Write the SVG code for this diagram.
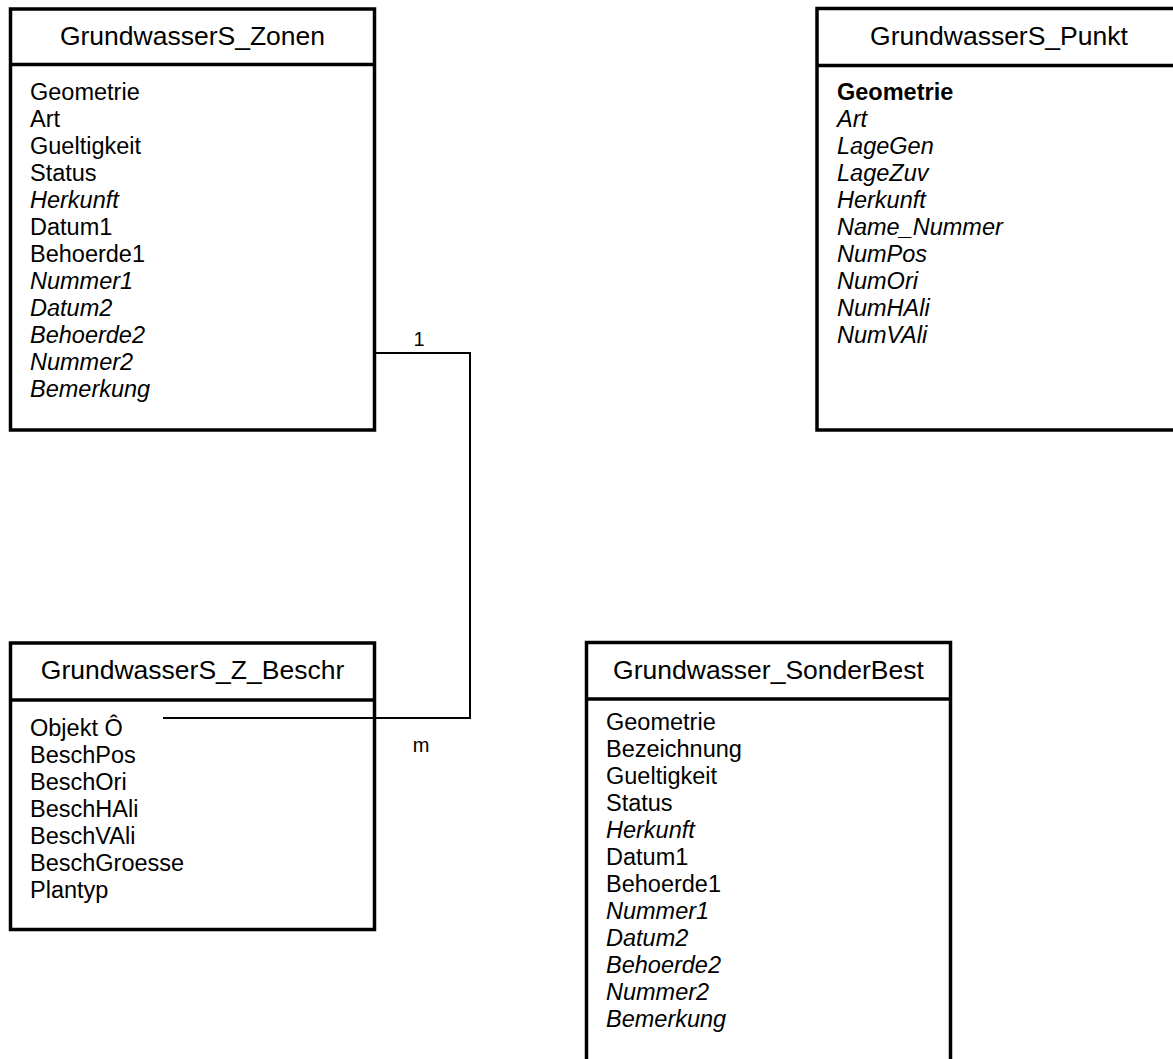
<svg xmlns="http://www.w3.org/2000/svg" width="1173" height="1059" viewBox="0 0 1173 1059">
  <style>
    .box { fill: #fff; stroke: #000; stroke-width: 3.5; }
    .div { stroke: #000; stroke-width: 3.5; }
    .title { font-family: "Liberation Sans", Arial, sans-serif; font-size: 26.5px; text-anchor: middle; fill: #000; }
    .attr { font-family: "Liberation Sans", Arial, sans-serif; font-size: 23.5px; fill: #000; }
    .it { font-style: italic; }
    .bd { font-weight: bold; }
    .conn { fill: none; stroke: #000; stroke-width: 2; }
    .mult { font-family: "Liberation Sans", Arial, sans-serif; font-size: 20px; text-anchor: middle; fill: #000; }
  </style>

  <rect width="1173" height="1059" fill="#fff"/>

  <g id="GrundwasserS_Zonen">
    <rect class="box" x="10.5" y="9" width="364" height="421"/>
    <line class="div" x1="10.5" y1="64.5" x2="374.5" y2="64.5"/>
    <text class="title" x="192.5" y="45">GrundwasserS_Zonen</text>
    <text class="attr" x="30" y="99.5">Geometrie</text>
    <text class="attr" x="30" y="126.5">Art</text>
    <text class="attr" x="30" y="153.5">Gueltigkeit</text>
    <text class="attr" x="30" y="180.5">Status</text>
    <text class="attr it" x="30" y="207.5">Herkunft</text>
    <text class="attr" x="30" y="234.5">Datum1</text>
    <text class="attr" x="30" y="261.5">Behoerde1</text>
    <text class="attr it" x="30" y="288.5">Nummer1</text>
    <text class="attr it" x="30" y="315.5">Datum2</text>
    <text class="attr it" x="30" y="342.5">Behoerde2</text>
    <text class="attr it" x="30" y="369.5">Nummer2</text>
    <text class="attr it" x="30" y="396.5">Bemerkung</text>
  </g>

  <g id="GrundwasserS_Punkt">
    <rect class="box" x="817" y="8.5" width="364" height="421.5"/>
    <line class="div" x1="817" y1="65.5" x2="1181" y2="65.5"/>
    <text class="title" x="999" y="45">GrundwasserS_Punkt</text>
    <text class="attr bd" x="837" y="99.5">Geometrie</text>
    <text class="attr it" x="837" y="126.5">Art</text>
    <text class="attr it" x="837" y="153.5">LageGen</text>
    <text class="attr it" x="837" y="180.5">LageZuv</text>
    <text class="attr it" x="837" y="207.5">Herkunft</text>
    <text class="attr it" x="837" y="234.5">Name_Nummer</text>
    <text class="attr it" x="837" y="261.5">NumPos</text>
    <text class="attr it" x="837" y="288.5">NumOri</text>
    <text class="attr it" x="837" y="315.5">NumHAli</text>
    <text class="attr it" x="837" y="342.5">NumVAli</text>
  </g>

  <g id="GrundwasserS_Z_Beschr">
    <rect class="box" x="10.5" y="643" width="364" height="286.5"/>
    <line class="div" x1="10.5" y1="700" x2="374.5" y2="700"/>
    <text class="title" x="192.5" y="679">GrundwasserS_Z_Beschr</text>
    <text class="attr" x="30" y="736">Objekt Ô</text>
    <text class="attr" x="30" y="763">BeschPos</text>
    <text class="attr" x="30" y="790">BeschOri</text>
    <text class="attr" x="30" y="817">BeschHAli</text>
    <text class="attr" x="30" y="844">BeschVAli</text>
    <text class="attr" x="30" y="871">BeschGroesse</text>
    <text class="attr" x="30" y="898">Plantyp</text>
  </g>

  <g id="Grundwasser_SonderBest">
    <rect class="box" x="586.5" y="642.5" width="364" height="440"/>
    <line class="div" x1="586.5" y1="699" x2="950.5" y2="699"/>
    <text class="title" x="768.5" y="679">Grundwasser_SonderBest</text>
    <text class="attr" x="606" y="730">Geometrie</text>
    <text class="attr" x="606" y="757">Bezeichnung</text>
    <text class="attr" x="606" y="784">Gueltigkeit</text>
    <text class="attr" x="606" y="811">Status</text>
    <text class="attr it" x="606" y="838">Herkunft</text>
    <text class="attr" x="606" y="865">Datum1</text>
    <text class="attr" x="606" y="892">Behoerde1</text>
    <text class="attr it" x="606" y="919">Nummer1</text>
    <text class="attr it" x="606" y="946">Datum2</text>
    <text class="attr it" x="606" y="973">Behoerde2</text>
    <text class="attr it" x="606" y="1000">Nummer2</text>
    <text class="attr it" x="606" y="1027">Bemerkung</text>
  </g>

  <!-- Relation 1:m, drawn on top so the end reaches into the description table -->
  <g id="connectors">
    <polyline class="conn" points="376,353 470,353 470,718 163,718"/>
    <text class="mult" x="419" y="346">1</text>
    <text class="mult" x="421" y="752">m</text>
  </g>
</svg>
